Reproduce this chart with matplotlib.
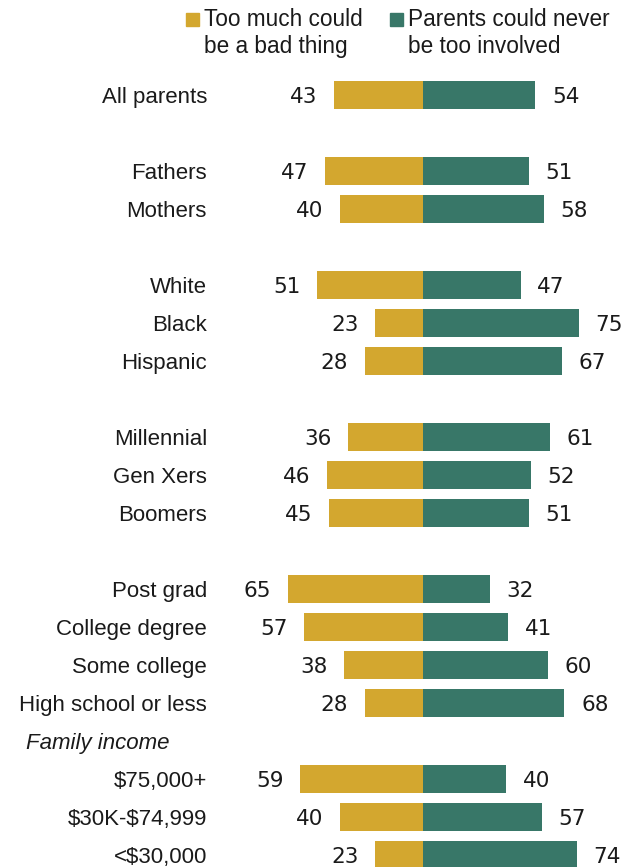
import matplotlib.pyplot as plt
from matplotlib.patches import Rectangle

plt.rcParams["text.parse_math"] = False

# rows top to bottom; None = blank spacer row
labels = ["All parents", None, "Fathers", "Mothers", None,
          "White", "Black", "Hispanic", None,
          "Millennial", "Gen Xers", "Boomers", None,
          "Post grad", "College degree", "Some college", "High school or less",
          "Family income",
          "$75,000+", "$30K-$74,999", "<$30,000"]
too_much = [43, None, 47, 40, None, 51, 23, 28, None, 36, 46, 45, None,
            65, 57, 38, 28, None, 59, 40, 23]
never_too = [54, None, 51, 58, None, 47, 75, 67, None, 61, 52, 51, None,
             32, 41, 60, 68, None, 40, 57, 74]
header_rows = ["Family income"]
legend_labels = [["Too much could", "be a bad thing"],
                 ["Parents could never", "be too involved"]]

YELLOW = "#D3A72F"
GREEN = "#387768"
FONT = ["Liberation Sans", "DejaVu Sans"]
NUM_FONT = ["DejaVu Sans"]
INK = "#1a1a1a"

W, H = 627, 867
center_px = 423
px_per_unit = 2.08
row_px = 38
first_row_px = 95

fig = plt.figure(figsize=(W / 100, H / 100), dpi=100)
ax = fig.add_axes([0, 0, 1, 1])
ax.set_xlim(-center_px / px_per_unit, (W - center_px) / px_per_unit)
ax.set_ylim((H - first_row_px) / row_px, -first_row_px / row_px)
ax.axis("off")

label_x = (207 - center_px) / px_per_unit
header_x = (26 - center_px) / px_per_unit
gap = 8

for i, lab in enumerate(labels):
    if lab is None:
        continue
    if lab in header_rows:
        ax.text(header_x, i, lab, ha="left", va="center_baseline", fontsize=16,
                style="italic", family=FONT, color=INK)
        continue
    ax.text(label_x, i, lab, ha="right", va="center_baseline", fontsize=16,
            family=FONT, color=INK)
    a, b = too_much[i], never_too[i]
    ax.barh(i, -a, height=0.75, color=YELLOW, edgecolor="none")
    ax.barh(i, b, height=0.75, color=GREEN, edgecolor="none")
    ax.text(-a - gap, i, str(a), ha="right", va="center_baseline", fontsize=15.5,
            family=NUM_FONT, color=INK)
    ax.text(b + gap, i, str(b), ha="left", va="center_baseline", fontsize=15.5,
            family=NUM_FONT, color=INK)

# legend drawn by hand, in figure pixels
def px(x, y):
    return x / W, 1 - y / H

for x0, color, lines in [(186, YELLOW, legend_labels[0]),
                         (390, GREEN, legend_labels[1])]:
    fx, fy = px(x0, 26)
    fig.patches.append(Rectangle((fx, fy), 13 / W, 13 / H, color=color,
                                 transform=fig.transFigure))
    for k, line in enumerate(lines):
        tx, ty = px(x0 + 18, 26 + 27 * k)
        fig.text(tx, ty, line, ha="left", va="baseline", fontsize=16.3,
                 family=FONT, color=INK)

fig.savefig("out.png", dpi=100)
